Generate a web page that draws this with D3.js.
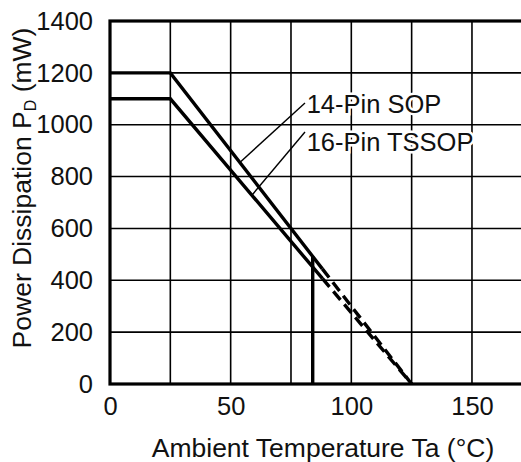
<!DOCTYPE html>
<html>
<head>
<meta charset="utf-8">
<script src="https://cdn.jsdelivr.net/npm/d3@7"></script>
<style>
  body { margin: 0; background: #fff; }
  svg { display: block; font-family: "Liberation Sans", Arial, sans-serif; }
</style>
</head>
<body>
<svg id="chart" width="521" height="462"></svg>
<script>
// ── Data ──────────────────────────────────────────────────────────────────────
const xTicks      = [0, 50, 100, 150];
const xGrid       = [25, 50, 75, 100, 125, 150, 175];
const yTicks      = [0, 200, 400, 600, 800, 1000, 1200, 1400];

const solidTemp   = [0, 25, 88];
const sopSolid    = [1200, 1200, 444];
const tssopSolid  = [1100, 1100, 407];

const dashTemp    = [88, 125];
const sopDash     = [444, 0];
const tssopDash   = [407, 0];

const cutoffTemp  = [84, 84];
const cutoffPower = [0, 492];

// label: text, leader start (temp, power), leader end on curve (temp, power)
const labels = [
  { text: '14-Pin SOP',   at: [80.8, 1084], to: [53.8, 1200 * (125 - 53.8) / 100], base: [81.5, 1047] },
  { text: '16-Pin TSSOP', at: [80.8, 972],  to: [58.8, 1100 * (125 - 58.8) / 100], base: [81.5, 900] },
];

// ── Layout ────────────────────────────────────────────────────────────────────
const svg = d3.select('#chart');
const x = d3.scaleLinear().domain([0, 175]).range([110, 532.3]);
const y = d3.scaleLinear().domain([0, 1400]).range([384, 21]);

const zip = (a, b) => a.map((v, i) => [v, b[i]]);
const line = d3.line().x(d => x(d[0])).y(d => y(d[1]));

// ── Grid ──────────────────────────────────────────────────────────────────────
svg.append('g').selectAll('line.vg').data(xGrid).join('line')
  .attr('x1', d => x(d)).attr('x2', d => x(d))
  .attr('y1', y(0)).attr('y2', y(1400))
  .attr('stroke', '#000').attr('stroke-width', 1.6);

svg.append('g').selectAll('line.hg').data(yTicks.filter(v => v > 0 && v < 1400)).join('line')
  .attr('x1', x(0)).attr('x2', x(175))
  .attr('y1', d => y(d)).attr('y2', d => y(d))
  .attr('stroke', '#000').attr('stroke-width', 1.6);

// frame
svg.append('rect')
  .attr('x', x(0)).attr('y', y(1400))
  .attr('width', x(175) - x(0)).attr('height', y(0) - y(1400))
  .attr('fill', 'none').attr('stroke', '#000').attr('stroke-width', 3.2);

// ── Curves ────────────────────────────────────────────────────────────────────
[sopSolid, tssopSolid].forEach(vals => {
  svg.append('path').attr('d', line(zip(solidTemp, vals)))
    .attr('fill', 'none').attr('stroke', '#000').attr('stroke-width', 3.4);
});
[sopDash, tssopDash].forEach(vals => {
  svg.append('path').attr('d', line(zip(dashTemp, vals)))
    .attr('fill', 'none').attr('stroke', '#000').attr('stroke-width', 3.4)
    .attr('stroke-dasharray', '11,6');
});
svg.append('path').attr('d', line(zip(cutoffTemp, cutoffPower)))
  .attr('fill', 'none').attr('stroke', '#000').attr('stroke-width', 3.4);

// ── Labels with leaders ───────────────────────────────────────────────────────
labels.forEach(l => {
  svg.append('line')
    .attr('x1', x(l.at[0])).attr('y1', y(l.at[1]))
    .attr('x2', x(l.to[0])).attr('y2', y(l.to[1]))
    .attr('stroke', '#000').attr('stroke-width', 1.4);
  svg.append('text')
    .attr('x', x(l.base[0])).attr('y', y(l.base[1]))
    .attr('font-size', 25.5)
    .attr('fill', '#111')
    .attr('stroke', '#fff').attr('stroke-width', 5)
    .attr('paint-order', 'stroke')
    .text(l.text);
});

// ── Axes (tick labels only) ───────────────────────────────────────────────────
const xAxis = svg.append('g').attr('transform', `translate(0,${y(0)})`)
  .call(d3.axisBottom(x).tickValues(xTicks).tickFormat(d3.format('d')).tickSize(0).tickPadding(13));
const yAxis = svg.append('g').attr('transform', `translate(${x(0)},0)`)
  .call(d3.axisLeft(y).tickValues(yTicks).tickFormat(d3.format('d')).tickSize(0).tickPadding(17));
[xAxis, yAxis].forEach(g => {
  g.select('.domain').remove();
  g.selectAll('text').attr('font-size', 25.5).attr('fill', '#111')
    .attr('font-family', '"Liberation Sans", Arial, sans-serif');
});

// ── Axis titles ───────────────────────────────────────────────────────────────
svg.append('text')
  .attr('x', 323).attr('y', 457)
  .attr('text-anchor', 'middle').attr('font-size', 26.5).attr('fill', '#111')
  .text('Ambient Temperature Ta (°C)');

const yTitle = svg.append('text')
  .attr('transform', 'translate(31,188) rotate(-90)')
  .attr('text-anchor', 'middle').attr('font-size', 26.5).attr('fill', '#111');
yTitle.append('tspan').text('Power Dissipation P');
yTitle.append('tspan').attr('font-size', 16).attr('dy', 5).text('D');
yTitle.append('tspan').attr('dy', -5).text(' (mW)');
</script>
</body>
</html>
